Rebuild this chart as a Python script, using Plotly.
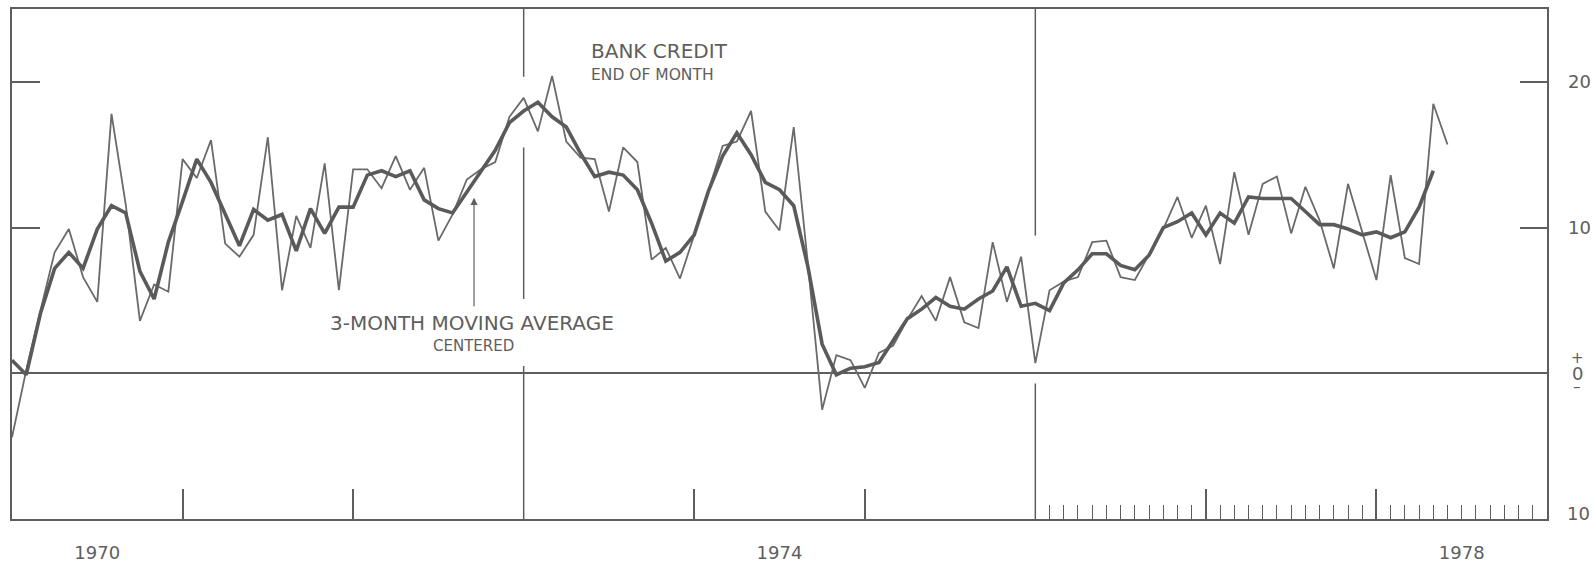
import plotly.graph_objects as go

# ---- data (monthly, starting Jan 1970) ----
start_year = 1970
bank_credit = [
    -4.4, 0.2, 4.3, 8.3, 9.9, 6.6, 4.9, 17.8, 11.6, 3.6, 6.1, 5.6,
    14.7, 13.4, 16.0, 8.9, 8.0, 9.5, 16.2, 5.7, 10.8, 8.6, 14.4, 5.7,
    14.0, 14.0, 12.7, 14.9, 12.6, 14.1, 9.1, 10.9, 13.3, 14.0, 14.5, 17.6,
    18.9, 16.6, 20.4, 15.9, 14.8, 14.7, 11.1, 15.5, 14.5, 7.8, 8.6, 6.5,
    9.5, 12.5, 15.6, 15.9, 18.0, 11.1, 9.8, 16.9, 7.5, -2.5, 1.25, 0.9,
    -1.0, 1.4, 1.9, 3.7, 5.3, 3.6, 6.6, 3.5, 3.1, 9.0, 4.9, 8.0,
    0.7, 5.7, 6.3, 6.6, 9.0, 9.1, 6.6, 6.4, 8.1, 9.9, 12.1, 9.3,
    11.5, 7.5, 13.8, 9.5, 13.0, 13.5, 9.6, 12.8, 10.5, 7.2, 13.0, 9.7,
    6.4, 13.6, 7.9, 7.5, 18.5, 15.7,
]
moving_avg = [
    0.9, -0.1, 4.1, 7.2, 8.3, 7.2, 9.9, 11.5, 11.0, 7.0, 5.1, 9.0,
    11.8, 14.7, 13.1, 10.9, 8.75, 11.25, 10.5, 10.9, 8.4, 11.3, 9.6, 11.4,
    11.4, 13.6, 13.9, 13.5, 13.9, 11.9, 11.3, 11.0, 12.4, 13.9, 15.3, 17.2,
    18.0, 18.6, 17.6, 16.9, 15.1, 13.5, 13.8, 13.6, 12.6, 10.3, 7.7, 8.3,
    9.5, 12.5, 14.9, 16.5, 15.0, 13.1, 12.6, 11.5, 7.3, 2.0, -0.1, 0.35,
    0.45, 0.75, 2.3, 3.75, 4.4, 5.2, 4.6, 4.4, 5.1, 5.65, 7.3, 4.6,
    4.8, 4.3, 6.2, 7.1, 8.2, 8.2, 7.4, 7.1, 8.1, 10.0, 10.4, 11.0,
    9.5, 11.0, 10.3, 12.1, 12.0, 12.0, 12.0, 11.1, 10.2, 10.2, 9.9, 9.5,
    9.7, 9.3, 9.7, 11.4, 13.9,
]
year_labels = ["1970", "1974", "1978"]
year_label_pos = [1970.5, 1974.5, 1978.5]
year_ticks = [1971, 1972, 1974, 1975, 1977, 1978]
full_year_lines = [1973, 1976]
month_tick_start, month_tick_end = 1976, 1979
left_y_ticks = [10, 20]
right_y_ticks = [10, 20]
right_y_ticktext = ["10", "20"]
bottom_label_value, bottom_label_text = -10, "10"

x_bc = [start_year + i / 12 for i in range(len(bank_credit))]
x_ma = [start_year + i / 12 for i in range(len(moving_avg))]
month_ticks = [month_tick_start + k / 12 for k in range(1, (month_tick_end - month_tick_start) * 12)]

INK = "#5e5e5e"
FONT = "DejaVu Sans"

fig = go.Figure()
fig.add_trace(go.Scatter(x=x_bc, y=bank_credit, mode="lines",
                         line=dict(color="#6a6a6a", width=1.8), hoverinfo="skip"))
fig.add_trace(go.Scatter(x=x_ma, y=moving_avg, mode="lines",
                         line=dict(color="#5a5a5a", width=3.6), hoverinfo="skip"))
# empty traces so that overlay axes are drawn
fig.add_trace(go.Scatter(x=[], y=[], xaxis="x2", showlegend=False))
fig.add_trace(go.Scatter(x=[], y=[], xaxis="x3", showlegend=False))
fig.add_trace(go.Scatter(x=[], y=[], yaxis="y2", showlegend=False))

xr = [1970, 1979]
yr = [-10, 25]
fig.update_layout(
    width=1593, height=562,
    margin=dict(l=12, r=46, t=9, b=43),
    paper_bgcolor="white", plot_bgcolor="white",
    showlegend=False,
    font=dict(family=FONT, color=INK),
    xaxis=dict(range=xr, tickvals=year_ticks, ticks="inside", ticklen=30,
               tickcolor=INK, tickwidth=1.5, showticklabels=False,
               showline=True, linecolor=INK, linewidth=1.5, mirror=True,
               showgrid=False, zeroline=False, fixedrange=True, automargin=False),
    xaxis2=dict(range=xr, overlaying="x", anchor="y", side="bottom",
                tickvals=month_ticks, ticks="inside", ticklen=14,
                tickcolor=INK, tickwidth=1.2, showticklabels=False,
                showline=False, showgrid=False, zeroline=False, automargin=False),
    xaxis3=dict(range=xr, overlaying="x", anchor="y", side="bottom",
                tickvals=year_label_pos, ticktext=year_labels, ticks="",
                tickfont=dict(size=18, color=INK, family=FONT),
                ticklabelstandoff=21,
                showline=False, showgrid=False, zeroline=False, automargin=False),
    yaxis=dict(range=yr, side="left", tickvals=left_y_ticks,
               ticks="inside", ticklen=28, tickcolor=INK, tickwidth=1.5,
               showticklabels=False,
               showline=True, linecolor=INK, linewidth=1.5, mirror=True,
               showgrid=False, zeroline=True, zerolinecolor=INK, zerolinewidth=2.2,
               fixedrange=True, automargin=False),
    yaxis2=dict(range=yr, overlaying="y", anchor="x", side="right",
                tickvals=right_y_ticks, ticktext=right_y_ticktext,
                ticks="inside", ticklen=27, tickcolor=INK, tickwidth=1.5,
                tickfont=dict(size=18, color=INK, family=FONT),
                ticklabelstandoff=20,
                showline=False, showgrid=False, zeroline=False, automargin=False),
)

# full-height year lines broken where data and labels cross them
segments = {1973: [(20.35, 25), (5.1, 15.5), (-10, 0.5)],
            1976: [(9.45, 25), (-10, -0.7)]}
for xv in full_year_lines:
    for y0, y1 in segments[xv]:
        fig.add_shape(type="line", xref="x", yref="y", x0=xv, x1=xv, y0=y0, y1=y1,
                      line=dict(color=INK, width=1.5))

# stacked "+ 0 -" label at the right-hand zero
for txt, ys, sz in [("+", 15, 15), ("0", 0, 18), ("–", -14, 15)]:
    fig.add_annotation(xref="paper", yref="y", x=1.0, y=0, xanchor="center",
                       xshift=30, yshift=ys, text=txt, showarrow=False,
                       font=dict(size=sz, color=INK, family=FONT))
# bottom-right scale label (sits just above the frame corner)
fig.add_annotation(xref="paper", yref="y", x=1.0, y=bottom_label_value, xanchor="center",
                   xshift=31, yshift=6, text=bottom_label_text, showarrow=False,
                   font=dict(size=18, color=INK, family=FONT))

# titles
fig.add_annotation(xref="x", yref="y", x=1973.383, y=22.15, xanchor="left",
                   text="BANK CREDIT", showarrow=False,
                   font=dict(size=20, color=INK, family=FONT))
fig.add_annotation(xref="x", yref="y", x=1973.383, y=20.45, xanchor="left",
                   text="END OF MONTH", showarrow=False,
                   font=dict(size=15.5, color=INK, family=FONT))
fig.add_annotation(xref="x", yref="y", x=1972.697, y=3.42, xanchor="center",
                   text="3-MONTH MOVING AVERAGE", showarrow=False,
                   font=dict(size=20, color=INK, family=FONT))
fig.add_annotation(xref="x", yref="y", x=1972.703, y=1.85, xanchor="center",
                   text="CENTERED", showarrow=False,
                   font=dict(size=15, color=INK, family=FONT))
# arrow
fig.add_annotation(xref="x", yref="y", x=1972.709, y=12.05,
                   axref="x", ayref="y", ax=1972.709, ay=4.5,
                   text="", showarrow=True, arrowhead=2, arrowsize=1.2,
                   arrowwidth=1.2, arrowcolor=INK)

# remove the browser's default page margin so the figure fills the window exactly
fig.write_html("out.html",
               config={"displayModeBar": False},
               post_script="document.body.style.margin='0';document.body.style.overflow='hidden';")
